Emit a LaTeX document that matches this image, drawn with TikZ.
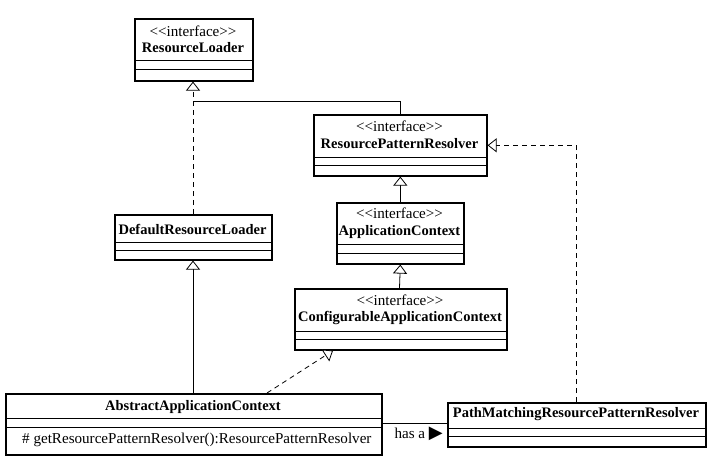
\documentclass[tikz,border=0pt]{standalone}
\usepackage{fontspec}
\setmainfont{Liberation Serif}
\newfontfamily\symfont{DejaVu Sans}
\usetikzlibrary{arrows.meta}
\begin{document}
\begin{tikzpicture}[x=1pt,y=-1pt,
  classbox/.style={draw, line width=1.6pt, inner sep=0pt, anchor=north west},
  sepline/.style={line width=0.9pt},
  stereo/.style={font=\fontsize{15.1}{17}\selectfont, inner sep=0pt},
  cname/.style={font=\fontsize{14.5}{17}\selectfont\bfseries, inner sep=0pt},
  conn/.style={line width=0.8pt},
  inh/.style={conn, -{Triangle[open, length=9pt, width=14pt, fill=white]}},
  real/.style={inh, dash pattern=on 5pt off 4pt},
]
\useasboundingbox (0,0) rectangle (719,465);

% ResourceLoader
\node[classbox, minimum width=118pt, minimum height=62pt] (rl) at (134,18) {};
\draw[sepline] (rl.west |- 0,60) -- (rl.east |- 0,60);
\draw[sepline] (rl.west |- 0,69) -- (rl.east |- 0,69);
\node[stereo] (rlst) at (193,31) {<\kern0pt<interface>\kern0pt>};
\node[cname] (rlnm) at (193,48) {ResourceLoader};

% ResourcePatternResolver
\node[classbox, minimum width=173pt, minimum height=61pt] (rpr) at (313,114) {};
\draw[sepline] (rpr.west |- 0,157) -- (rpr.east |- 0,157);
\draw[sepline] (rpr.west |- 0,165) -- (rpr.east |- 0,165);
\node[stereo] (rprst) at (399.5,126) {<\kern0pt<interface>\kern0pt>};
\node[cname] (rprnm) at (399.5,144) {ResourcePatternResolver};

% DefaultResourceLoader
\node[classbox, minimum width=157pt, minimum height=45pt] (drl) at (114,214) {};
\draw[sepline] (drl.west |- 0,242) -- (drl.east |- 0,242);
\draw[sepline] (drl.west |- 0,250) -- (drl.east |- 0,250);
\node[cname] (drlnm) at (192.5,229) {DefaultResourceLoader};

% ApplicationContext
\node[classbox, minimum width=127pt, minimum height=61pt] (ac) at (336,202) {};
\draw[sepline] (ac.west |- 0,244) -- (ac.east |- 0,244);
\draw[sepline] (ac.west |- 0,253) -- (ac.east |- 0,253);
\node[stereo] (acst) at (399.5,213) {<\kern0pt<interface>\kern0pt>};
\node[cname] (acnm) at (399.5,232) {ApplicationContext};

% ConfigurableApplicationContext
\node[classbox, minimum width=212pt, minimum height=61pt] (cac) at (294,288) {};
\draw[sepline] (cac.west |- 0,331) -- (cac.east |- 0,331);
\draw[sepline] (cac.west |- 0,339) -- (cac.east |- 0,339);
\node[stereo] (cacst) at (400,300) {<\kern0pt<interface>\kern0pt>};
\node[cname] (cacnm) at (400,318) {ConfigurableApplicationContext};

% AbstractApplicationContext
\node[classbox, minimum width=376pt, minimum height=61pt] (aac) at (5,393) {};
\draw[sepline] (aac.west |- 0,418) -- (aac.east |- 0,418);
\draw[sepline] (aac.west |- 0,427) -- (aac.east |- 0,427);
\node[cname] (aacnm) at (193,407) {AbstractApplicationContext};
\node[stereo, anchor=west] (aacm) at (22,440) {\# getResourcePatternResolver():ResourcePatternResolver};

% PathMatchingResourcePatternResolver
\node[classbox, minimum width=258pt, minimum height=44pt] (pm) at (447,402) {};
\draw[sepline] (pm.west |- 0,428) -- (pm.east |- 0,428);
\draw[sepline] (pm.west |- 0,436) -- (pm.east |- 0,436);
\node[cname] (pmnm) at (576,414) {PathMatchingResourcePatternResolver};

% connectors
\coordinate (j1) at (193,101);
\draw[conn] (rpr.north) |- (j1);
\draw[real] (drl.north -| 193,0) -- (rl.south -| 193,0);
\draw[inh] (ac.north) -- (rpr.south);
\draw[inh] (cac.north -| 399.5,0) -- (ac.south);
\draw[inh] (aac.north -| 193,0) -- (drl.south -| 193,0);
\draw[real] (aac.north -| 267,0) -- (cac.south -| 333,0);
\draw[real] (pm.north -| 576,0) |- (rpr.east);
\draw[conn] (aac.east |- 0,423) -- (pm.west |- 0,423);
\node[stereo, anchor=east] (hasa) at (443,434) {has a {\symfont\fontsize{18}{18}\selectfont ▶}};
\end{tikzpicture}
\end{document}
